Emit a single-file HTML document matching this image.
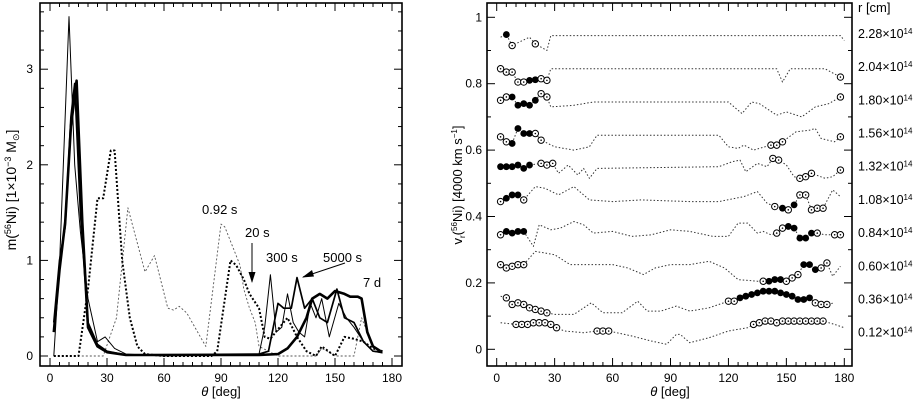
<!DOCTYPE html>
<html><head><meta charset="utf-8">
<style>
html,body{margin:0;padding:0;background:#fff;}
svg{display:block;font-family:"Liberation Sans",sans-serif;}
</style></head>
<body>
<svg id="fig" width="923" height="404" viewBox="0 0 923 404" xmlns="http://www.w3.org/2000/svg">
<g id="left"></g>
<g id="right"></g>
</svg>
<script>
// ---------- LEFT PANEL DATA ----------
const thetaA = [2,5,10,13,16,20,25,29,34,40,60,110,113,116,119,122,125,128,131,134,137,140,143,147,152,156,160,165,170,175];
const m300s  = [0,0.95,3.55,2.0,1.3,0.6,0.15,0.2,0.08,0.02,0,0.02,0.3,0.85,0.25,0.3,0.65,0.35,0.25,0.2,0.55,0.4,0.6,0.2,0.55,0.4,0.3,0.15,0.05,0.03];
const theta5000 = [2,5,8,11,13,16,20,25,30,40,110,115,120,123,127,130,134,138,142,146,151,155,160,165,170,175];
const m5000s = [0.35,1.0,1.35,2.5,2.85,1.5,0.35,0.12,0.05,0.01,0.02,0.05,0.55,0.5,0.5,0.82,0.5,0.6,0.4,0.35,0.7,0.4,0.35,0.15,0.05,0.04];
const theta7d = [2,5,8,11,14,17,20,25,30,40,110,120,125,130,135,138,142,146,150,155,158,162,164,167,170,174];
const m7d = [0.25,0.9,1.4,2.4,2.88,1.4,0.3,0.1,0.04,0.01,0.01,0.02,0.08,0.2,0.4,0.6,0.65,0.6,0.68,0.65,0.62,0.62,0.6,0.25,0.1,0.05];
const theta20 = [2,15,20,25,28,32,34,38,42,46,50,60,85,88,95,98,102,105,110,113,116,120,125,130,135,140,143,150,155,160,165,170,175];
const m20s = [0,0,0.7,1.65,1.65,2.15,2.15,1.0,0.4,0.1,0.02,0,0,0.05,1.0,0.95,0.8,0.65,0.5,0.2,0.18,0.28,0.4,0.2,0.05,0,0.1,0,0.2,0.18,0.15,0.08,0.05];
const theta092 = [2,28,35,41,50,55,62,65,68,72,82,90,92,97,100,102,105,108,110,120,140,143,146,150,160,164,170,175];
const m092s = [0,0,0.4,1.55,0.88,1.05,0.5,0.48,0.52,0.45,0.1,1.38,1.35,1.1,0.95,0.7,0.5,0.35,0.1,0,0,0.08,0.05,0,0,0.4,0.1,0.05];
const leftYTicks = [0,1,2,3];
const xTicks = [0,30,60,90,120,150,180];

// ---------- RIGHT PANEL DATA ----------
const rLabels = ["2.28","2.04","1.80","1.56","1.32","1.08","0.84","0.60","0.36","0.12"];
const rLabelLevels = [0.95,0.85,0.75,0.65,0.55,0.45,0.35,0.25,0.15,0.05];
const t228 = [2,5,8,17,20,26,28,178,180];
const v228 = [0.94,0.948,0.915,0.94,0.92,0.9,0.945,0.945,0.93];
const k228 = "021010000";
const t204 = [2,5,8,11,14,17,20,23,26,28,145,148,152,170,178];
const v204 = [0.845,0.835,0.835,0.805,0.805,0.81,0.812,0.815,0.81,0.845,0.845,0.805,0.845,0.845,0.82];
const k204 = "111112211000001";
const t180 = [2,5,8,11,14,17,20,23,26,28,40,50,120,127,132,136,145,150,158,165,172,178];
const v180 = [0.75,0.76,0.76,0.735,0.74,0.735,0.75,0.77,0.76,0.73,0.735,0.745,0.745,0.71,0.745,0.74,0.705,0.715,0.70,0.73,0.74,0.76];
const k180 = "1122222110000000000001";
const t156 = [2,5,8,11,14,17,20,23,30,40,48,52,115,120,125,128,133,142,145,148,155,162,165,168,175,178];
const v156 = [0.64,0.625,0.62,0.665,0.65,0.65,0.65,0.63,0.61,0.60,0.61,0.645,0.645,0.61,0.605,0.615,0.6,0.615,0.615,0.625,0.655,0.66,0.665,0.635,0.625,0.64];
const k156 = "11222211000000000111000001";
const t132 = [2,5,8,11,14,17,23,26,29,32,37,42,45,48,52,115,122,126,129,135,140,143,146,150,154,157,160,163,170,174,178];
const v132 = [0.55,0.55,0.55,0.555,0.545,0.555,0.56,0.555,0.56,0.53,0.555,0.525,0.545,0.515,0.545,0.55,0.565,0.57,0.535,0.56,0.55,0.575,0.57,0.555,0.52,0.515,0.52,0.53,0.515,0.52,0.54];
const k132 = "2222221110000000000001100111001";
const t108 = [2,5,8,11,14,20,25,32,40,48,60,75,100,115,128,135,140,144,148,151,154,157,160,163,166,169,174,178];
const v108 = [0.445,0.455,0.465,0.465,0.45,0.49,0.485,0.465,0.49,0.45,0.445,0.45,0.445,0.445,0.46,0.475,0.44,0.43,0.425,0.42,0.435,0.465,0.465,0.42,0.425,0.425,0.48,0.46];
const k108 = "1222100000000000012121111100";
const t084 = [2,5,8,11,14,19,22,28,33,40,45,50,60,70,80,90,100,112,120,125,130,135,138,142,145,148,151,154,157,160,163,166,170,175,178];
const v084 = [0.345,0.355,0.35,0.355,0.355,0.31,0.375,0.36,0.365,0.385,0.375,0.35,0.355,0.34,0.345,0.36,0.355,0.34,0.34,0.38,0.38,0.35,0.355,0.345,0.35,0.365,0.37,0.365,0.335,0.335,0.35,0.35,0.345,0.345,0.345];
const k084 = "12222000000000000000000011222221011";
const t060 = [2,5,8,11,14,20,25,30,38,60,68,76,82,90,100,110,118,125,135,138,141,144,147,150,153,156,159,162,165,168,171,174,178];
const v060 = [0.255,0.245,0.25,0.255,0.255,0.295,0.29,0.285,0.255,0.255,0.245,0.225,0.245,0.255,0.255,0.265,0.245,0.21,0.205,0.205,0.205,0.21,0.21,0.205,0.215,0.225,0.255,0.255,0.24,0.245,0.26,0.22,0.25];
const k060 = "111110000000000000012221112221100";
const t036 = [2,5,8,11,14,17,20,23,26,30,40,49,55,65,73,78,85,93,100,110,120,123,126,129,132,135,138,141,144,147,150,153,156,159,162,165,168,171,175];
const v036 = [0.16,0.155,0.135,0.14,0.135,0.125,0.12,0.115,0.11,0.105,0.105,0.14,0.11,0.11,0.145,0.115,0.115,0.13,0.115,0.125,0.145,0.145,0.155,0.16,0.165,0.17,0.175,0.175,0.175,0.17,0.165,0.16,0.15,0.15,0.155,0.14,0.135,0.135,0.14];
const k036 = "011111111000000000001122222222222221110";
const t012 = [2,10,13,16,19,22,25,28,31,35,45,52,55,58,70,80,88,93,95,100,110,120,130,133,136,139,142,145,148,151,154,157,160,163,166,169,175,180];
const v012 = [0.08,0.075,0.075,0.075,0.08,0.08,0.08,0.075,0.065,0.055,0.05,0.055,0.055,0.055,0.04,0.025,0.015,0.045,0.045,0.02,0.035,0.055,0.065,0.075,0.08,0.085,0.085,0.08,0.085,0.085,0.085,0.085,0.085,0.085,0.085,0.085,0.075,0.065];
const k012 = "01111111100111000000000111111111111100";
const rightYTicks = [0,0.2,0.4,0.6,0.8,1];

// ---------- HELPERS ----------
const NS = "http://www.w3.org/2000/svg";
function mk(tag, attrs, parent){const e=document.createElementNS(NS,tag);for(const k in attrs)e.setAttribute(k,attrs[k]);parent.appendChild(e);return e;}

const L = {x0:40,x1:402,y0:3,y1:366};
const lx = t => 50 + t*(342/180);
const ly = v => 356 - v*95.6;
const R = {x0:487,x1:852,y0:3,y1:366};
const rx = t => 496.7 + t*(347.6/180);
const ry = v => 349.3 - v*332;

const gL = document.getElementById('left');
const gR = document.getElementById('right');

function frame(g, B, xs, ys, yMinStep, yMin, yMax, majorEvery){
  const f = mk('rect',{x:B.x0,y:B.y0,width:B.x1-B.x0,height:B.y1-B.y0,fill:'none',stroke:'#000','stroke-width':1.6},g);
  
  
  const tk = mk('g',{stroke:'#000','stroke-width':1},g);
  
  
  for(let t=0;t<=180;t+=5){
    const len = t%30===0?8:4;
    const x = xs(t);
    mk('line',{x1:x,y1:B.y1,x2:x,y2:B.y1-len},tk);
    mk('line',{x1:x,y1:B.y0,x2:x,y2:B.y0+len},tk);
  }
  const n = Math.round((yMax-yMin)/yMinStep);
  for(let i=0;i<=n;i++){
    const v = yMin+i*yMinStep;
    const y = ys(v);
    if(y<B.y0||y>B.y1) continue;
    const len = (i%majorEvery===0)?8:4;
    mk('line',{x1:B.x0,y1:y,x2:B.x0+len,y2:y},tk);
    mk('line',{x1:B.x1,y1:y,x2:B.x1-len,y2:y},tk);
  }
  xTicks.forEach(t=>{
    const tx = mk('text',{x:xs(t),y:B.y1+16,'text-anchor':'middle','font-size':12},g);
    tx.textContent = t;
    
    
  });
}

frame(gL, L, lx, ly, 0.2, 0, 3.6, 5);
leftYTicks.forEach(v=>{
  const tx = mk('text',{x:33,y:ly(v)+4,'text-anchor':'end','font-size':12},gL);
  tx.textContent = v;
  
  
});
frame(gR, R, rx, ry, 0.1, 0, 1.0, 2);
rightYTicks.forEach(v=>{
  const tx = mk('text',{x:482,y:ry(v)+4,'text-anchor':'end','font-size':12},gR);
  tx.textContent = v;
  
  
});

function line(g, xs, ys, ts, vs, style, name){
  const d = ts.map((t,i)=>(i?'L':'M')+xs(t).toFixed(1)+','+ys(vs[i]).toFixed(1)).join(' ');
  const p = mk('path',Object.assign({d:d,fill:'none','stroke-linejoin':'round'},style),g);
  
  
}

const defs = mk('defs',{},document.getElementById('fig'));
const cp = mk('clipPath',{id:'clipL'},defs); mk('rect',{x:L.x0,y:L.y0,width:L.x1-L.x0,height:L.y1-L.y0},cp);
const gLc = mk('g',{'clip-path':'url(#clipL)'},gL);



line(gLc,lx,ly,theta092,m092s,{stroke:'#555','stroke-width':0.9,'stroke-dasharray':'2,2'},'series-0.92s');
line(gLc,lx,ly,theta20,m20s,{stroke:'#000','stroke-width':2,'stroke-dasharray':'2,2'},'series-20s');
line(gLc,lx,ly,thetaA,m300s,{stroke:'#000','stroke-width':1},'series-300s');
line(gLc,lx,ly,theta5000,m5000s,{stroke:'#000','stroke-width':1.7},'series-5000s');
line(gLc,lx,ly,theta7d,m7d,{stroke:'#000','stroke-width':2.6},'series-7d');

const ann = [["0.92 s",202,214],["20 s",245,237],["300 s",266,262],["5000 s",323,262],["7 d",363,287]];
ann.forEach(a=>{
  const t = mk('text',{x:a[1],y:a[2],'font-size':13},gL);
  t.textContent=a[0];
  
  
});
const ar1 = mk('g',{},gL);


mk('line',{x1:252,y1:243,x2:252,y2:282,stroke:'#000','stroke-width':1},ar1);
mk('path',{d:'M248.5,272 L252,283 L255.5,272 Z',fill:'#000'},ar1);
const ar2 = mk('g',{},gL);


mk('line',{x1:345,y1:263,x2:303,y2:277,stroke:'#000','stroke-width':1},ar2);
mk('path',{d:'M302,277.5 L312,270 L314,276.5 Z',fill:'#000'},ar2);

const yl = mk('text',{x:0,y:0,'font-size':14,'text-anchor':'middle',transform:'translate(16,190) rotate(-90)'},gL);
yl.innerHTML = 'm(<tspan font-size="9" dy="-5">56</tspan><tspan dy="5">Ni)  [1×10</tspan><tspan font-size="9" dy="-5">−3</tspan><tspan dy="5"> M</tspan><tspan font-size="9" dy="3">⊙</tspan><tspan dy="-3">]</tspan>';


const xl = mk('text',{x:221,y:396,'font-size':13,'text-anchor':'middle'},gL);
xl.innerHTML = '<tspan font-style="italic">θ</tspan>  [deg]';



const series = [[t228,v228,k228],[t204,v204,k204],[t180,v180,k180],[t156,v156,k156],[t132,v132,k132],[t108,v108,k108],[t084,v084,k084],[t060,v060,k060],[t036,v036,k036],[t012,v012,k012]];
series.forEach((s,si)=>{
  const g = mk('g',{},gR);
  
  
  line(g,rx,ry,s[0],s[1],{stroke:'#333','stroke-width':1,'stroke-dasharray':'1.5,2'},'dotted-line');
  s[0].forEach((t,i)=>{
    const k = s[2][i];
    if(k==='1'){
      const c = mk('circle',{cx:rx(t),cy:ry(s[1][i]),r:3.2,fill:'#fff',stroke:'#000','stroke-width':1},g);
      
      
      mk('circle',{cx:rx(t),cy:ry(s[1][i]),r:0.8,fill:'#000'},g);
    } else if(k==='2'){
      const c = mk('circle',{cx:rx(t),cy:ry(s[1][i]),r:3.4,fill:'#000'},g);
      
      
    }
  });
});

rLabels.forEach((lab,i)=>{
  const t = mk('text',{x:858,y:ry(rLabelLevels[i])+4,'font-size':12.5},gR);
  t.innerHTML = lab+'×10<tspan font-size="8" dy="-4">14</tspan>';
  
  
});
const rt = mk('text',{x:858,y:12,'font-size':13},gR);
rt.textContent = 'r  [cm]';



const yl2 = mk('text',{x:0,y:0,'font-size':13,'text-anchor':'middle',transform:'translate(462,185) rotate(-90)'},gR);
yl2.innerHTML = 'v<tspan font-size="8" dy="3">r</tspan><tspan dy="-3">(</tspan><tspan font-size="8" dy="-5">56</tspan><tspan dy="5">Ni)  [4000 km s</tspan><tspan font-size="8" dy="-5">−1</tspan><tspan dy="5">]</tspan>';


const xl2 = mk('text',{x:670,y:396,'font-size':13,'text-anchor':'middle'},gR);
xl2.innerHTML = '<tspan font-style="italic">θ</tspan>  [deg]';


</script>
</body></html>
